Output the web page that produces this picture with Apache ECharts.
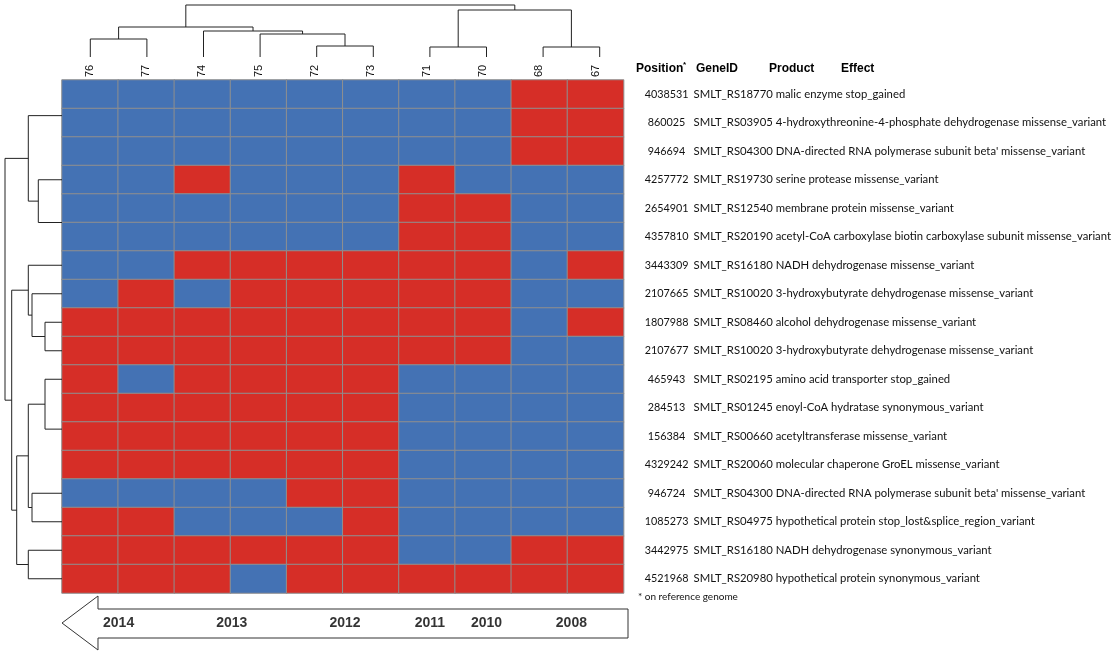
<!DOCTYPE html>
<html><head><meta charset="utf-8">
<script src="https://cdn.jsdelivr.net/npm/echarts@6/dist/echarts.min.js"></script>
<style>html,body{margin:0;padding:0;background:#fff}#c{width:1114px;height:651px}</style>
</head><body><div id="c"></div>
<script>
// ---------------- data ----------------
const colLabels = ['76','77','74','75','72','73','71','70','68','67'];
const positions = ['4038531','860025','946694','4257772','2654901','4357810','3443309','2107665','1807988','2107677','465943','284513','156384','4329242','946724','1085273','3442975','4521968'];
const geneIds = ['SMLT_RS18770','SMLT_RS03905','SMLT_RS04300','SMLT_RS19730','SMLT_RS12540','SMLT_RS20190','SMLT_RS16180','SMLT_RS10020','SMLT_RS08460','SMLT_RS10020','SMLT_RS02195','SMLT_RS01245','SMLT_RS00660','SMLT_RS20060','SMLT_RS04300','SMLT_RS04975','SMLT_RS16180','SMLT_RS20980'];
const products = ['malic enzyme','4-hydroxythreonine-4-phosphate dehydrogenase','DNA-directed RNA polymerase subunit beta\'','serine protease','membrane protein','acetyl-CoA carboxylase biotin carboxylase subunit','NADH dehydrogenase','3-hydroxybutyrate dehydrogenase','alcohol dehydrogenase','3-hydroxybutyrate dehydrogenase','amino acid transporter','enoyl-CoA hydratase','acetyltransferase','molecular chaperone GroEL','DNA-directed RNA polymerase subunit beta\'','hypothetical protein','NADH dehydrogenase','hypothetical protein'];
const effects = ['stop_gained','missense_variant','missense_variant','missense_variant','missense_variant','missense_variant','missense_variant','missense_variant','missense_variant','missense_variant','stop_gained','synonymous_variant','missense_variant','missense_variant','missense_variant','stop_lost&splice_region_variant','synonymous_variant','synonymous_variant'];
// 1 = variant present (red), 0 = absent (blue); columns follow colLabels
const variantRows = [
  [0,0,0,0,0,0,0,0,1,1],
  [0,0,0,0,0,0,0,0,1,1],
  [0,0,0,0,0,0,0,0,1,1],
  [0,0,1,0,0,0,1,0,0,0],
  [0,0,0,0,0,0,1,1,0,0],
  [0,0,0,0,0,0,1,1,0,0],
  [0,0,1,1,1,1,1,1,0,1],
  [0,1,0,1,1,1,1,1,0,0],
  [1,1,1,1,1,1,1,1,0,1],
  [1,1,1,1,1,1,1,1,0,0],
  [1,0,1,1,1,1,0,0,0,0],
  [1,1,1,1,1,1,0,0,0,0],
  [1,1,1,1,1,1,0,0,0,0],
  [1,1,1,1,1,1,0,0,0,0],
  [0,0,0,0,1,1,0,0,0,0],
  [1,1,0,0,0,1,0,0,0,0],
  [1,1,1,1,1,1,0,0,1,1],
  [1,1,1,0,1,1,1,1,1,1]
];
// dendrogram merges: [childA, childB, height]; index < n = leaf, n+k = k-th merge
const colMerges = [[4,5,11],[6,7,10],[8,9,10],[0,1,18],[3,10,23],[2,14,26],[13,15,30],[11,12,47],[16,17,52]];
const rowMerges = [[1,2,0],[0,18,0],[4,5,0],[3,20,23.7],[19,21,33.7],[8,9,17],[7,23,30],[6,24,33.7],[12,13,0],[11,26,0],[10,27,17],[14,15,30],[28,29,33.7],[16,17,33.7],[30,31,45.3],[25,32,50.3],[22,33,57]];
const yearLabels = ['2014','2013','2012','2011','2010','2008'];
const yearColumns = [['76','77'],['74','75'],['72','73'],['71'],['70'],['68','67']];

// ---------------- layout ----------------
const GL = 62, GT = 80, GW = 566, GH = 513;
const BLUE = '#4472b4', RED = '#d62e27';

function dendroSegments(n, merges){
  const pos = [], hgt = [];
  for (let i=0;i<n;i++){pos[i]=i;hgt[i]=0;}
  const segs = [];
  merges.forEach((m,k)=>{
    const a=m[0], b=m[1], h=m[2];
    pos[n+k]=(pos[a]+pos[b])/2; hgt[n+k]=h;
    if (h>0) segs.push([pos[a],hgt[a],pos[b],hgt[b],h]);
  });
  return segs;
}
const colSegs = dendroSegments(colLabels.length, colMerges);
const rowSegs = dendroSegments(positions.length, rowMerges);

const heatData = [];
variantRows.forEach((row,r)=>row.forEach((v,c)=>heatData.push([c,r,v])));

const yearData = yearLabels.map((y,i)=>{
  const idx = yearColumns[i].map(c=>colLabels.indexOf(c));
  return [idx.reduce((s,v)=>s+v,0)/idx.length, 28, y];
});
// arrow outline (x in column units, y in px units within arrow band)
const arrowShape = [[-0.5,28],[0.136,1],[0.136,14],[9.5,14],[9.5,43],[0.136,43],[0.136,55]];

const rowFont = 'Lato';
const chart = echarts.init(document.getElementById('c'), null, {renderer:'canvas'});
chart.setOption({
  backgroundColor:'#fff',
  animation:false,
  grid:[
    {left:GL, top:GT, width:GW, height:GH},
    {left:GL, top:5, width:GW, height:52},
    {left:5, top:GT, width:GL-5, height:GH},
    {left:GL, top:595, width:GW, height:56}
  ],
  xAxis:[
    {gridIndex:0, type:'category', data:colLabels, position:'top',
     axisLine:{show:false}, axisTick:{show:false}, splitLine:{show:false},
     axisLabel:{rotate:-90, margin:3, fontSize:11, color:'#111', fontFamily:'Liberation Sans'}},
    {gridIndex:1, type:'value', min:-0.5, max:9.5, show:false},
    {gridIndex:2, type:'value', min:0, max:57, inverse:true, show:false},
    {gridIndex:3, type:'value', min:-0.5, max:9.5, show:false}
  ],
  yAxis:[
    {gridIndex:0, type:'category', data:positions, inverse:true, position:'right',
     axisLine:{show:false}, axisTick:{show:false}, splitLine:{show:false},
     axisLabel:{margin:16, color:'#111', fontFamily:rowFont, fontSize:11.3,
       formatter:(v,i)=>'{p|'+v+'}{g|'+geneIds[i]+' '+products[i]+' '+effects[i]+'}',
       rich:{p:{width:54, align:'center', fontFamily:rowFont, fontSize:10.8, color:'#111'},
             g:{fontFamily:rowFont, fontSize:11.3, color:'#111'}}}},
    {gridIndex:1, type:'value', min:0, max:52, show:false},
    {gridIndex:2, type:'value', min:-0.5, max:17.5, inverse:true, show:false},
    {gridIndex:3, type:'value', min:0, max:56, inverse:true, show:false}
  ],
  visualMap:{show:false, type:'piecewise', seriesIndex:0, dimension:2,
    pieces:[{value:0,color:BLUE},{value:1,color:RED}]},
  series:[
    {type:'heatmap', xAxisIndex:0, yAxisIndex:0, data:heatData,
     itemStyle:{borderColor:'#8f8f8f', borderWidth:1}},
    {type:'custom', xAxisIndex:1, yAxisIndex:1, data:colSegs, silent:true,
     renderItem:(p,api)=>({type:'polyline', shape:{points:[
       api.coord([api.value(0),api.value(1)]), api.coord([api.value(0),api.value(4)]),
       api.coord([api.value(2),api.value(4)]), api.coord([api.value(2),api.value(3)])]},
       style:{stroke:'#222', lineWidth:1, fill:null}})},
    {type:'custom', xAxisIndex:2, yAxisIndex:2, data:rowSegs, silent:true,
     renderItem:(p,api)=>({type:'polyline', shape:{points:[
       api.coord([api.value(1),api.value(0)]), api.coord([api.value(4),api.value(0)]),
       api.coord([api.value(4),api.value(2)]), api.coord([api.value(3),api.value(2)])]},
       style:{stroke:'#222', lineWidth:1, fill:null}})},
    {type:'custom', xAxisIndex:3, yAxisIndex:3, data:[0], silent:true,
     renderItem:(p,api)=>({type:'polygon', shape:{points:arrowShape.map(q=>api.coord(q))},
       style:{stroke:'#333', lineWidth:1, fill:'#fff'}})},
    {type:'scatter', xAxisIndex:3, yAxisIndex:3, data:yearData, symbolSize:0, silent:true, z:5,
     label:{show:true, position:'inside', formatter:p=>p.value[2], fontFamily:'Liberation Sans',
       fontWeight:'bold', fontSize:14, color:'#000'}}
  ],
  graphic:[
    {type:'text', left:636, top:63, style:{text:'Position', font:'bold 12px "Liberation Sans"', fill:'#000'}},
    {type:'text', left:683, top:61, style:{text:'*', font:'bold 8px "Liberation Sans"', fill:'#000'}},
    {type:'text', left:696, top:63, style:{text:'GeneID', font:'bold 12px "Liberation Sans"', fill:'#000'}},
    {type:'text', left:769, top:63, style:{text:'Product', font:'bold 12px "Liberation Sans"', fill:'#000'}},
    {type:'text', left:841, top:63, style:{text:'Effect', font:'bold 12px "Liberation Sans"', fill:'#000'}},
    {type:'text', left:638, top:592, style:{text:'* on reference genome', font:'10px Lato', fill:'#111'}}
  ]
});
</script></body></html>
